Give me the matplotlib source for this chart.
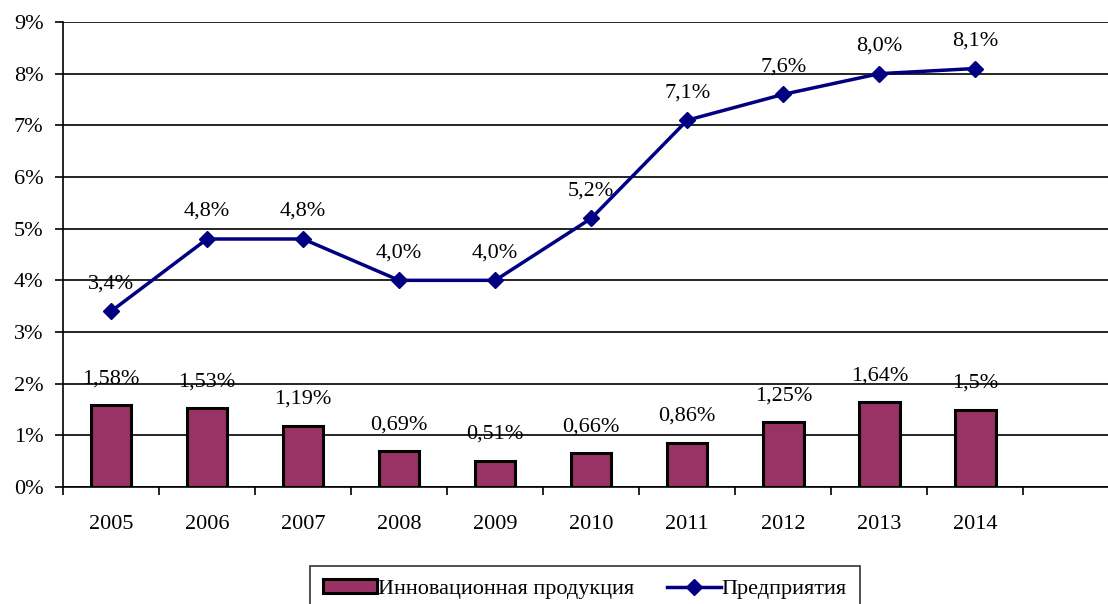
import numpy as np
import matplotlib.pyplot as plt
from matplotlib.ticker import FixedLocator

years = ['2005', '2006', '2007', '2008', '2009', '2010', '2011', '2012', '2013', '2014']
innov = [1.58, 1.53, 1.19, 0.69, 0.51, 0.66, 0.86, 1.25, 1.64, 1.5]
firms = [3.4, 4.8, 4.8, 4.0, 4.0, 5.2, 7.1, 7.6, 8.0, 8.1]

plt.rcParams['font.family'] = ['Liberation Serif', 'DejaVu Serif']
plt.rcParams['font.size'] = 16

fig = plt.figure(figsize=(11.08, 6.04), dpi=100)
ax = fig.add_axes([63/1108, 1 - 487/604, 1 - 63/1108, (487 - 22)/604])

x = np.arange(len(years))
bars = ax.bar(x, innov, width=0.42, color='#993366', edgecolor='black',
              linewidth=2.2, zorder=3, label='Инновационная продукция')
line, = ax.plot(x, firms, color='#000080', linewidth=2.5, marker='D',
                markersize=8, zorder=4, label='Предприятия')

# подписи данных
for xi, v in zip(x, innov):
    ax.annotate(f"{v:g}".replace('.', ',') + '%', (xi, v), xytext=(0, 12),
                textcoords='offset points', ha='center', va='bottom')
for xi, v in zip(x, firms):
    ax.annotate(f"{v:.1f}".replace('.', ',') + '%', (xi, v), xytext=(0, 13),
                textcoords='offset points', ha='center', va='bottom')

ax.set_ylim(0, 9)
ax.set_xlim(-0.5, 10.38)
ax.set_yticks(range(0, 10))
ax.set_yticklabels([f"{i}%" for i in range(0, 10)])
ax.yaxis.grid(True, color='black', linewidth=1.2, zorder=0)
ax.set_axisbelow(True)

ax.set_xticks(x)
ax.set_xticklabels(years)
ax.tick_params(axis='x', which='major', length=0, pad=20)
ax.xaxis.set_minor_locator(FixedLocator(np.arange(-0.5, 10.5, 1.0)))
ax.tick_params(axis='x', which='minor', length=6, width=1.2, direction='out')
ax.tick_params(axis='y', length=6, width=1.2, direction='out', pad=8)

for s in ['top', 'right']:
    ax.spines[s].set_visible(False)
ax.spines['left'].set_linewidth(1.2)
ax.spines['bottom'].set_linewidth(1.2)

leg = fig.legend(handles=[bars, line], loc='upper center',
                 bbox_to_anchor=(585/1108, 1 - 566/604), borderaxespad=0,
                 ncol=2, frameon=True, fancybox=False, edgecolor='black',
                 handlelength=2.4, handleheight=0.6, columnspacing=1.5,
                 borderpad=0.6, handletextpad=0.05)
leg.get_frame().set_linewidth(1.2)

fig.savefig('out.png', dpi=100)
